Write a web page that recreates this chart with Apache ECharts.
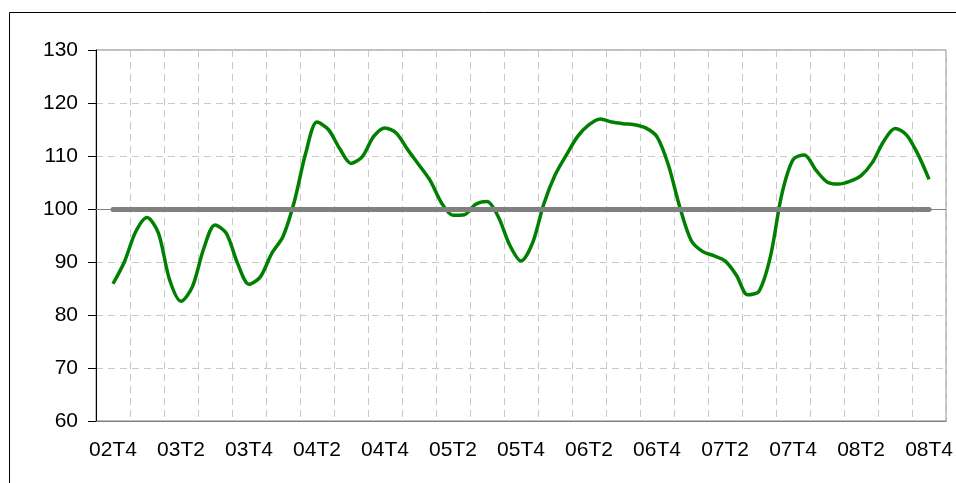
<!DOCTYPE html>
<html>
<head>
<meta charset="utf-8">
<script src="https://cdn.jsdelivr.net/npm/echarts@6/dist/echarts.min.js"></script>
<style>
html,body{margin:0;padding:0;background:#fff;}
#chart{width:956px;height:483px;}
</style>
</head>
<body>
<div id="chart"></div>
<script>
// Quarterly labels (one band per quarter)
var quarters = ['02T4','03T1','03T2','03T3','03T4','04T1','04T2','04T3','04T4',
  '05T1','05T2','05T3','05T4','06T1','06T2','06T3','06T4',
  '07T1','07T2','07T3','07T4','08T1','08T2','08T3','08T4'];
// Monthly index values, from the middle month of 02T4 to the middle month of 08T4
var indexValues = [
  85.9, 90.0, 95.7, 98.4, 95.5, 86.6, 82.6, 85.3, 92.5, 97.0,
  95.4, 89.7, 85.8, 87.2, 91.6, 94.8, 101.4, 110.5, 116.4, 115.0,
  111.4, 108.6, 109.9, 113.7, 115.3, 114.3, 111.2, 108.3, 105.3, 101.1,
  98.8, 98.9, 100.9, 101.4, 98.5, 93.2, 90.2, 93.5, 100.9, 106.4,
  110.2, 113.7, 115.9, 117.0, 116.4, 116.1, 115.9, 115.3, 113.6, 108.3,
  100.4, 94.1, 92.0, 91.2, 90.2, 87.5, 83.8, 84.5, 91.0, 102.7,
  109.3, 110.2, 107.4, 105.1, 104.7, 105.2, 106.3, 108.8, 112.8, 115.2,
  114.0, 110.4, 105.6
];
var baseLevel = 100;
var yTicks = [60, 70, 80, 90, 100, 110, 120, 130];

// three monthly slots per quarter
var months = [];
quarters.forEach(function (q) { months.push(q + '.1', q + '.2', q + '.3'); });
var seriesData = [null].concat(indexValues);
while (seriesData.length < months.length) seriesData.push(null);
var firstCat = months[1];
var lastCat = months[indexValues.length];

var chart = echarts.init(document.getElementById('chart'));
var font = 'Liberation Sans, Arial, sans-serif';
chart.setOption({
  animation: false,
  backgroundColor: '#ffffff',
  grid: {
    left: 96, top: 50, width: 852, height: 371,
    show: true, borderColor: '#808080', borderWidth: 1, backgroundColor: 'transparent'
  },
  xAxis: {
    type: 'category',
    data: months,
    boundaryGap: true,
    axisLine: { show: true, lineStyle: { color: '#808080', width: 1 } },
    axisTick: { show: false },
    axisLabel: {
      interval: function (i) { return i % 6 === 1; },
      formatter: function (v) { return v.split('.')[0]; },
      color: '#000', fontFamily: font, fontSize: 21, margin: 19
    },
    splitLine: {
      show: true,
      interval: function (i) { return i % 3 === 0 && i > 0; },
      lineStyle: { color: '#c8c8c8', width: 1, type: [7, 5] }
    }
  },
  yAxis: {
    type: 'value',
    min: yTicks[0], max: yTicks[yTicks.length - 1], interval: 10,
    axisLine: { show: true, lineStyle: { color: '#000', width: 1 } },
    axisTick: { show: true, length: 8, lineStyle: { color: '#000' } },
    axisLabel: { color: '#000', fontFamily: font, fontSize: 21, margin: 18 },
    splitLine: { show: true, lineStyle: { color: '#c8c8c8', width: 1, type: [7, 5] } }
  },
  graphic: [{
    type: 'rect',
    shape: { x: 9.5, y: 12.5, width: 970, height: 500 },
    style: { fill: 'none', stroke: '#000', lineWidth: 1 },
    silent: true, z: 0
  }],
  series: [
    {
      type: 'line', data: [], z: 1, silent: true,
      markLine: {
        silent: true, symbol: 'none', label: { show: false },
        lineStyle: { color: '#808080', width: 1, type: 'solid' },
        data: [{ yAxis: baseLevel }]
      }
    },
    {
      type: 'line', data: seriesData, z: 2,
      smooth: 0.3, showSymbol: false, connectNulls: false,
      lineStyle: { color: '#008000', width: 3.5 }
    },
    {
      type: 'line', data: [], z: 3, silent: true,
      markLine: {
        silent: true, symbol: 'none', label: { show: false },
        lineStyle: { color: '#808080', width: 5, type: 'solid', cap: 'round' },
        data: [[{ xAxis: firstCat, yAxis: baseLevel }, { xAxis: lastCat, yAxis: baseLevel }]]
      }
    }
  ]
});
</script>
</body>
</html>
